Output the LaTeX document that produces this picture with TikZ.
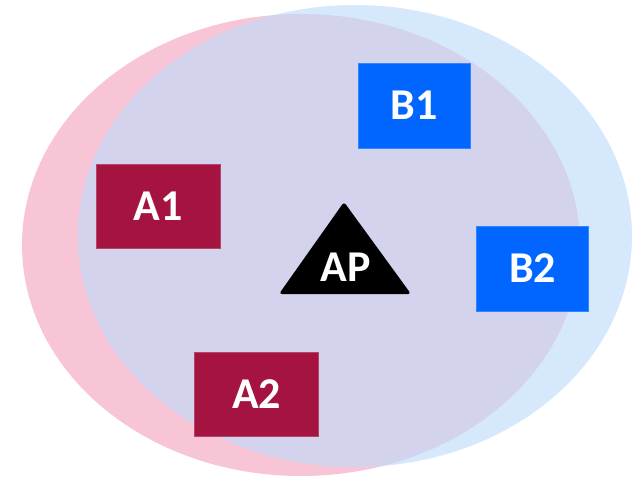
\documentclass[tikz,border=0pt]{standalone}
\usepackage{fontspec}
\setmainfont{Carlito}
\definecolor{pinkE}{HTML}{F7C5D5}
\definecolor{blueE}{HTML}{D5E8FC}
\definecolor{lavE}{HTML}{D3D3EE}
\definecolor{aRed}{HTML}{A51441}
\definecolor{bBlue}{HTML}{0066FF}
\begin{document}
\begin{tikzpicture}[x=1pt,y=-1pt,
  lbl/.style={font=\fontsize{44}{44}\selectfont\bfseries, text=white},
  abox/.style={fill=aRed, draw=aRed!80!white, line width=0.6pt, minimum width=124pt, minimum height=84pt, inner sep=0pt, lbl},
  bbox/.style={fill=bBlue, draw=bBlue!80!white, line width=0.6pt, minimum width=112pt, minimum height=85pt, inner sep=0pt, lbl}]
\useasboundingbox (0,0) rectangle (633,479);
\fill[pinkE] (301,245) ellipse [x radius=279, y radius=231];
\fill[blueE] (355,236) ellipse [x radius=277, y radius=231];
\begin{scope}
  \clip (301,245) ellipse [x radius=279, y radius=231];
  \fill[lavE] (355,236) ellipse [x radius=277, y radius=231];
\end{scope}
\node[abox] (A1) at (158,206) {A1};
\node[abox] (A2) at (256.5,394) {A2};
\node[bbox] (B1) at (414,105.5) {B1};
\node[bbox] (B2) at (532.5,268.5) {B2};
\fill[black, rounded corners=3pt] (344,202) -- (411,294) -- (279,294) -- cycle;
\node[lbl, inner sep=0pt] (AP) at (346,267) {AP};
\end{tikzpicture}
\end{document}
